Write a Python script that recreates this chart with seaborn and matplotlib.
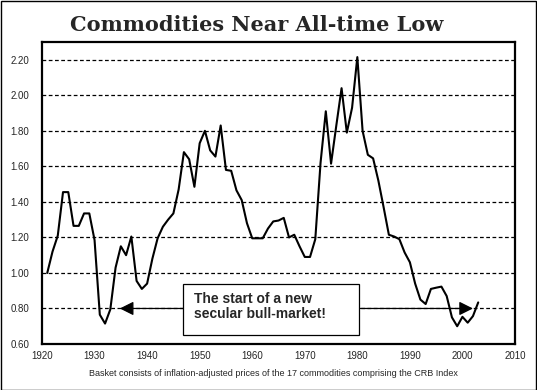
import numpy as np
import pandas as pd
import matplotlib
matplotlib.use("Agg")
import matplotlib.pyplot as plt
from matplotlib.patches import Rectangle
import seaborn as sns

# Inflation-adjusted basket of the 17 CRB commodities
years = np.arange(1921, 2004)
index_values = [
    1.00, 1.12, 1.21, 1.455, 1.455, 1.265, 1.265, 1.335, 1.335, 1.185,
    0.765, 0.715, 0.795, 1.03, 1.15, 1.10, 1.205, 0.955, 0.91, 0.94,
    1.08, 1.195, 1.26, 1.30, 1.335, 1.47, 1.68, 1.64, 1.485, 1.73,
    1.80, 1.69, 1.655, 1.83, 1.58, 1.575, 1.465, 1.41, 1.28, 1.195,
    1.195, 1.195, 1.25, 1.29, 1.295, 1.31, 1.20, 1.215, 1.15, 1.09,
    1.09, 1.19, 1.62, 1.91, 1.615, 1.83, 2.04, 1.79, 1.93, 2.215,
    1.80, 1.665, 1.645, 1.52, 1.37, 1.215, 1.205, 1.19, 1.115, 1.06,
    0.94, 0.85, 0.825, 0.91, 0.917, 0.923, 0.87, 0.75, 0.70, 0.753,
    0.72, 0.757, 0.834,
]
x_ticks = list(range(1920, 2011, 10))
y_ticks = [0.60, 0.80, 1.00, 1.20, 1.40, 1.60, 1.80, 2.00, 2.20]

title = "Commodities Near All-time Low"
note = "Basket consists of inflation-adjusted prices of the 17 commodities comprising the CRB Index"
callout = "The start of a new\nsecular bull-market!"
arrow_level = 0.80
arrow_left = (1946.8, 1934.8)   # (start, tip)
arrow_right = (1980.3, 2002.0)

df = pd.DataFrame({"year": years, "value": index_values})

sns.set_style("white")
plt.rcParams["font.family"] = ["Liberation Sans", "DejaVu Sans"]

fig = plt.figure(figsize=(5.37, 3.9), dpi=100)
ax = fig.add_axes([42 / 537, 46 / 390, 473 / 537, 302 / 390])

# dashed horizontal grid
for y in y_ticks[1:]:
    ax.axhline(y, color="black", lw=0.9, ls=(0, (3, 2)), zorder=1)

sns.lineplot(data=df, x="year", y="value", color="black", lw=1.5, ax=ax, zorder=3)

ax.set_xlim(1920, 2010)
ax.set_ylim(0.60, 2.30)
ax.set_xticks(x_ticks)
ax.set_xticks(range(1920, 2011), minor=True)
ax.set_yticks(y_ticks)
ax.set_yticklabels([f"{v:.2f}" for v in y_ticks])
ax.set_xlabel("")
ax.set_ylabel("")
ax.tick_params(axis="x", which="both", direction="inout", length=4, width=0.8,
               labelsize=7, pad=3)
ax.tick_params(axis="y", length=0, labelsize=7, pad=9)
for spine in ax.spines.values():
    spine.set_linewidth(1.6)
    spine.set_color("black")

# callout box + arrows
ax.add_patch(Rectangle((0.298, 0.030), 0.372, 0.169, transform=ax.transAxes,
                       facecolor="white", edgecolor="black", lw=0.9, zorder=5))
ax.text(0.321, 0.125, callout, transform=ax.transAxes, fontsize=10,
        fontweight="bold", va="center", ha="left", linespacing=1.1, zorder=6)
for start, tip in (arrow_left, arrow_right):
    ax.annotate("", xy=(tip, arrow_level), xytext=(start, arrow_level),
                arrowprops=dict(arrowstyle="-|>,head_length=0.6,head_width=0.3",
                                mutation_scale=14, lw=0.9, color="black",
                                shrinkA=0, shrinkB=0), zorder=4)

fig.text(257 / 537, 1 - 31 / 390, title, ha="center", va="baseline",
         fontsize=15, fontweight="bold", family="DejaVu Serif")
fig.text(273 / 537, 1 - 374 / 390, note, ha="center", va="center", fontsize=6.5)

# thin frame round the whole picture
fig.patches.append(Rectangle((0.001, 0.001), 0.997, 0.997, transform=fig.transFigure,
                             fill=False, edgecolor="black", lw=1))

fig.savefig("out.png", dpi=100)
